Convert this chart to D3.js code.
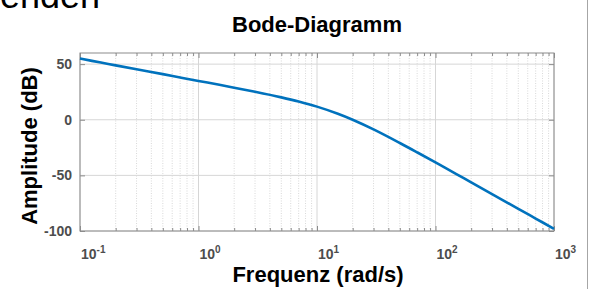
<!DOCTYPE html>
<html>
<head>
<meta charset="utf-8">
<script src="https://cdn.jsdelivr.net/npm/d3@7"></script>
<style>
  html, body { margin: 0; padding: 0; background: #fff; }
  svg { display: block; font-family: "Liberation Sans", Arial, sans-serif; }
</style>
</head>
<body>
<svg id="chart" width="589" height="289"></svg>
<script>
// ---- data ----
const freqs = [0.1, 0.15, 0.2, 0.3, 0.5, 0.7, 1, 1.5, 2, 3, 5, 7, 10, 15, 20, 30, 50, 70, 100, 150, 200, 300, 500, 700, 1000];
const magDb = [55, 51.4, 48.9, 45.4, 41, 38, 34.9, 31.4, 28.8, 25.1, 20.1, 16.4, 11.8, 5.4, 0, -8.7, -20.9, -29.3, -38.4, -48.8, -56.3, -66.9, -80.1, -88.8, -98];
const yTicks = [-100, -50, 0, 50];
const xTickExps = [-1, 0, 1, 2, 3];
const titleText = "Bode-Diagramm";
const xLabelText = "Frequenz (rad/s)";
const yLabelText = "Amplitude (dB)";
const cornerText = "enden";

const svg = d3.select("#chart");
const L = 80, R = 554, T = 53, B = 231;

const x = d3.scaleLog().domain([0.1, 1000]).range([L, R]);
const y = d3.scaleLinear().domain([-100, 60]).range([B, T]);

// partial text at top-left (cut off in the reference as well)
svg.append("text").attr("x", 0).attr("y", 8)
  .attr("font-size", 36).attr("fill", "#000").text(cornerText);

// right separator line
svg.append("line").attr("x1", 587.5).attr("x2", 587.5).attr("y1", 0).attr("y2", 289)
  .attr("stroke", "#a6a6a6").attr("stroke-width", 1);

// minor / major vertical grid
const minorVals = [];
const majorVals = xTickExps.map(e => Math.pow(10, e));
for (let e = -1; e < 3; e++) for (let m = 2; m <= 9; m++) minorVals.push(m * Math.pow(10, e));

const g = svg.append("g");
g.selectAll("line.minor").data(minorVals).join("line")
  .attr("x1", d => x(d)).attr("x2", d => x(d)).attr("y1", T).attr("y2", B)
  .attr("stroke", "#cfcfcf").attr("stroke-width", 0.8).attr("stroke-dasharray", "1,1.5");
g.selectAll("line.majx").data(majorVals).join("line")
  .attr("x1", d => x(d)).attr("x2", d => x(d)).attr("y1", T).attr("y2", B)
  .attr("stroke", "#d6d6d6").attr("stroke-width", 1);
g.selectAll("line.majy").data(yTicks).join("line")
  .attr("x1", L).attr("x2", R).attr("y1", d => y(d)).attr("y2", d => y(d))
  .attr("stroke", "#d6d6d6").attr("stroke-width", 1);

// axes (inner ticks)
const axCol = "#8c8c8c";
function styleAxis(sel) {
  sel.select(".domain").remove();
  sel.selectAll(".tick line").attr("stroke", axCol);
  sel.selectAll(".tick text").remove();
}
svg.append("g").attr("transform", `translate(0,${B})`)
  .call(d3.axisBottom(x).tickValues(minorVals).tickSize(-3)).call(styleAxis);
svg.append("g").attr("transform", `translate(0,${T})`)
  .call(d3.axisTop(x).tickValues(minorVals).tickSize(-3)).call(styleAxis);
svg.append("g").attr("transform", `translate(0,${B})`)
  .call(d3.axisBottom(x).tickValues(majorVals).tickSize(-5)).call(styleAxis);
svg.append("g").attr("transform", `translate(0,${T})`)
  .call(d3.axisTop(x).tickValues(majorVals).tickSize(-5)).call(styleAxis);
svg.append("g").attr("transform", `translate(${L},0)`)
  .call(d3.axisLeft(y).tickValues(yTicks).tickSize(-5)).call(styleAxis);
svg.append("g").attr("transform", `translate(${R},0)`)
  .call(d3.axisRight(y).tickValues(yTicks).tickSize(-5)).call(styleAxis);

// box
svg.append("rect").attr("x", L).attr("y", T).attr("width", R - L).attr("height", B - T)
  .attr("fill", "none").attr("stroke", axCol).attr("stroke-width", 1);

// tick labels
const tickCol = "#4d4d4d";
svg.append("g").selectAll("text").data(yTicks).join("text")
  .attr("x", 72).attr("y", d => y(d) + 5)
  .attr("text-anchor", "end").attr("font-size", 14).attr("font-weight", "bold")
  .attr("fill", tickCol).text(d => d);

const xl = svg.append("g").selectAll("text").data(xTickExps).join("text")
  .attr("x", d => x(Math.pow(10, d)) + 1).attr("y", 258.5)
  .attr("font-size", 14).attr("font-weight", "bold").attr("fill", tickCol);
xl.append("tspan").text("10");
xl.append("tspan").attr("dy", -6).attr("font-size", 10).text(d => String(d));

// curve
const line = d3.line().x((d, i) => x(freqs[i])).y(d => y(d)).curve(d3.curveCatmullRom);
svg.append("path").datum(magDb).attr("d", line)
  .attr("fill", "none").attr("stroke", "#0072BD").attr("stroke-width", 2.6)
  .attr("stroke-linejoin", "round");

// labels
svg.append("text").attr("x", 317).attr("y", 31.5).attr("text-anchor", "middle")
  .attr("font-size", 22).attr("font-weight", "bold").attr("fill", "#000").text(titleText);
svg.append("text").attr("x", 318).attr("y", 281.5).attr("text-anchor", "middle")
  .attr("font-size", 22).attr("font-weight", "bold").attr("fill", "#000").text(xLabelText);
svg.append("text").attr("transform", "translate(37,146) rotate(-90)").attr("text-anchor", "middle")
  .attr("font-size", 22).attr("font-weight", "bold").attr("fill", "#000").text(yLabelText);
</script>
</body>
</html>
